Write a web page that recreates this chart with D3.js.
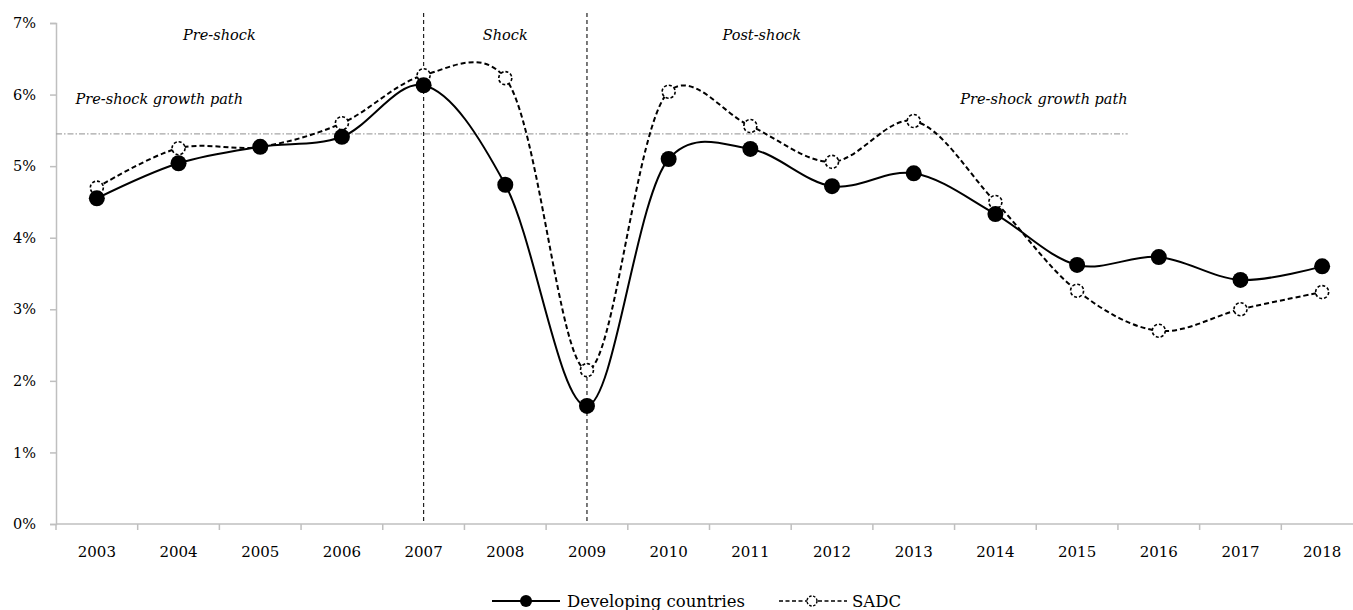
<!DOCTYPE html>
<html>
<head>
<meta charset="utf-8">
<script src="https://cdn.jsdelivr.net/npm/d3@7"></script>
<style>
  html, body { margin: 0; padding: 0; background: #fff; }
  svg { display: block; font-family: "DejaVu Serif", "Liberation Serif", serif; }
</style>
</head>
<body>
<svg id="chart" width="1353" height="610"></svg>
<script>
// ---- data ----
const years = [2003, 2004, 2005, 2006, 2007, 2008, 2009, 2010, 2011, 2012, 2013, 2014, 2015, 2016, 2017, 2018];
const developing = [4.55, 5.04, 5.27, 5.41, 6.13, 4.74, 1.65, 5.10, 5.24, 4.72, 4.90, 4.33, 3.62, 3.73, 3.41, 3.60];
const sadc = [4.70, 5.25, 5.27, 5.60, 6.27, 6.23, 2.15, 6.04, 5.56, 5.06, 5.63, 4.50, 3.26, 2.70, 3.00, 3.24];
const seriesNames = ["Developing countries", "SADC"];
const yTicks = [0, 1, 2, 3, 4, 5, 6, 7];
const shockYears = [2007, 2009];
const growthPath = 5.45;            // pre-shock growth path level (%)
const growthPathEnd = 2015.62;      // where the reference line stops
const periodLabels = ["Pre-shock", "Shock", "Post-shock"];
const periodAt = [2004.5, 2008, 2011.14];
const pathLabel = "Pre-shock growth path";
const pathLabelAt = [2002.74, 2013.57];

// ---- layout ----
const svg = d3.select("#chart");
const mLeft = 56, mRight = 1363, mTop = 23, mBottom = 524;

const x = d3.scaleBand().domain(years).range([mLeft, mRight]).paddingInner(0).paddingOuter(0);
const bw = x.bandwidth();
const xc = d3.scaleLinear().domain([years[0], years[years.length - 1]])
  .range([x(years[0]) + bw / 2, x(years[years.length - 1]) + bw / 2]);
const y = d3.scaleLinear().domain([0, 7]).range([mBottom, mTop]);

const axisColor = "#bfbfbf";

// y axis
const yAxis = svg.append("g").attr("transform", `translate(${mLeft},0)`)
  .call(d3.axisLeft(y).tickValues(yTicks).tickFormat(d => d + "%").tickSize(6).tickPadding(14));
yAxis.select(".domain").attr("stroke", axisColor).attr("stroke-width", 1.5);
yAxis.selectAll(".tick line").attr("stroke", axisColor).attr("stroke-width", 1.5);
yAxis.selectAll(".tick text").attr("fill", "#000").style("font-size", "14.5px").style("font-family", "DejaVu Serif, serif");

// x axis: domain + boundary ticks
const xg = svg.append("g");
xg.append("line").attr("x1", mLeft).attr("x2", mRight).attr("y1", mBottom).attr("y2", mBottom)
  .attr("stroke", axisColor).attr("stroke-width", 1.5);
const bounds = years.map(d => x(d)).concat([mRight]);
xg.selectAll("line.bt").data(bounds).enter().append("line").attr("class", "bt")
  .attr("x1", d => d).attr("x2", d => d).attr("y1", mBottom).attr("y2", mBottom + 6)
  .attr("stroke", axisColor).attr("stroke-width", 1.5);
xg.selectAll("text").data(years).enter().append("text")
  .attr("x", d => x(d) + bw / 2).attr("y", 557).attr("text-anchor", "middle")
  .style("font-size", "15px").text(d => d);

// pre-shock growth path (dash-dot)
svg.append("line")
  .attr("x1", mLeft).attr("x2", xc(growthPathEnd))
  .attr("y1", y(growthPath)).attr("y2", y(growthPath))
  .attr("stroke", "#a6a6a6").attr("stroke-width", 1.2)
  .attr("stroke-dasharray", "6,2,1.5,2");

// shock vertical lines
svg.selectAll("line.shock").data(shockYears).enter().append("line").attr("class", "shock")
  .attr("x1", d => xc(d)).attr("x2", d => xc(d))
  .attr("y1", 13).attr("y2", mBottom)
  .attr("stroke", "#222").attr("stroke-width", 1.2).attr("stroke-dasharray", "4,3");

// period labels
svg.selectAll("text.period").data(periodLabels).enter().append("text").attr("class", "period")
  .attr("x", (d, i) => xc(periodAt[i])).attr("y", 40).attr("text-anchor", "middle")
  .style("font-style", "italic").style("font-size", "14.5px").text(d => d);

svg.selectAll("text.path").data(pathLabelAt).enter().append("text").attr("class", "path")
  .attr("x", d => xc(d)).attr("y", 104)
  .style("font-style", "italic").style("font-size", "14.5px").text(pathLabel);

// lines
const line = d3.line().x((d, i) => xc(years[i])).y(d => y(d)).curve(d3.curveCatmullRom.alpha(0.25));

svg.append("path").datum(sadc).attr("d", line)
  .attr("fill", "none").attr("stroke", "#000").attr("stroke-width", 2).attr("stroke-dasharray", "5,3");
svg.append("path").datum(developing).attr("d", line)
  .attr("fill", "none").attr("stroke", "#000").attr("stroke-width", 2);

// markers
svg.selectAll("circle.sadc").data(sadc).enter().append("circle").attr("class", "sadc")
  .attr("cx", (d, i) => xc(years[i])).attr("cy", d => y(d)).attr("r", 6.5)
  .attr("fill", "#fff").attr("stroke", "#000").attr("stroke-width", 1.6).attr("stroke-dasharray", "3,2");
svg.selectAll("circle.dev").data(developing).enter().append("circle").attr("class", "dev")
  .attr("cx", (d, i) => xc(years[i])).attr("cy", d => y(d)).attr("r", 8)
  .attr("fill", "#000");

// legend
const lg = svg.append("g");
const ly = 601;
lg.append("line").attr("x1", 492).attr("x2", 560).attr("y1", ly).attr("y2", ly)
  .attr("stroke", "#000").attr("stroke-width", 2);
lg.append("circle").attr("cx", 526).attr("cy", ly).attr("r", 6).attr("fill", "#000");
lg.append("text").attr("x", 567).attr("y", ly + 6).style("font-size", "16.5px").text(seriesNames[0]);
lg.append("line").attr("x1", 779).attr("x2", 847).attr("y1", ly).attr("y2", ly)
  .attr("stroke", "#000").attr("stroke-width", 1.6).attr("stroke-dasharray", "4,2.5");
lg.append("circle").attr("cx", 812).attr("cy", ly).attr("r", 5)
  .attr("fill", "#fff").attr("stroke", "#000").attr("stroke-width", 1.4).attr("stroke-dasharray", "2.5,1.5");
lg.append("text").attr("x", 852).attr("y", ly + 6).style("font-size", "16.5px").text(seriesNames[1]);
</script>
</body>
</html>
